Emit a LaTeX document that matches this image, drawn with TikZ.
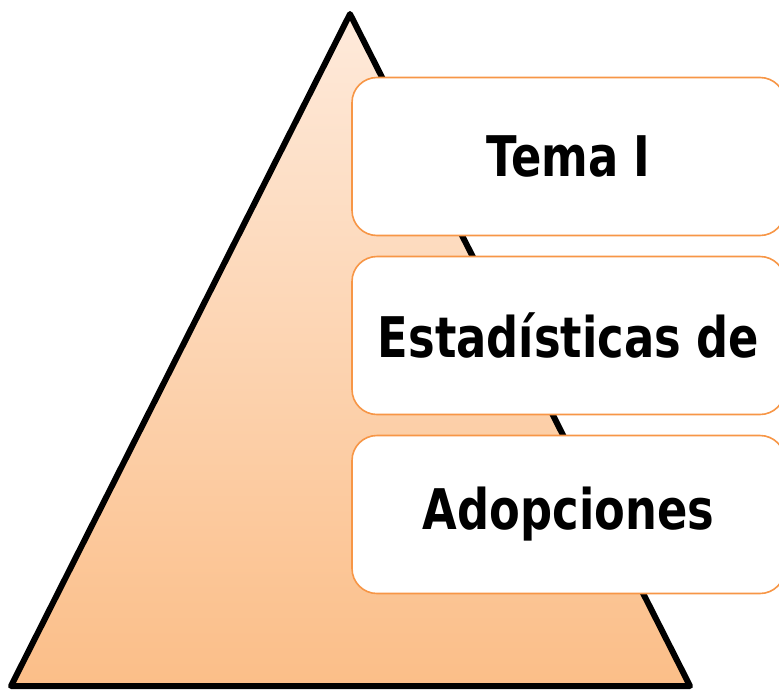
\documentclass[tikz,border=0pt]{standalone}
\usepackage{fontspec}
\newfontfamily\boxfont[FakeStretch=0.8]{DejaVu Sans}
\definecolor{tritop}{HTML}{FEEADB}
\definecolor{tribot}{HTML}{FBBE88}
\definecolor{boxline}{HTML}{F79646}
\tikzset{
  pyramid/.style={draw=black, line width=6pt, line join=round, top color=tritop, bottom color=tribot},
  tierbox/.style={draw=boxline, line width=1.6pt, fill=white, rounded corners=25pt,
    minimum width=433pt, minimum height=158pt, inner sep=0pt,
    font=\boxfont\bfseries\fontsize{56}{60}\selectfont, text=black}
}
\begin{document}
\begin{tikzpicture}[x=1pt,y=-1pt]
\useasboundingbox (0,0) rectangle (779,691);
\coordinate (apex) at (350,14);
\coordinate (bl) at (11,686);
\coordinate (br) at (690,686);
\path[pyramid] (apex) -- (br) -- (bl) -- cycle;
\node[tierbox] (t1) at (568.5,156.5) {Tema I};
\node[tierbox] (t2) at (568.5,335.5) {Estadísticas de};
\node[tierbox] (t3) at (568.5,514.5) {Adopciones};
\end{tikzpicture}
\end{document}
